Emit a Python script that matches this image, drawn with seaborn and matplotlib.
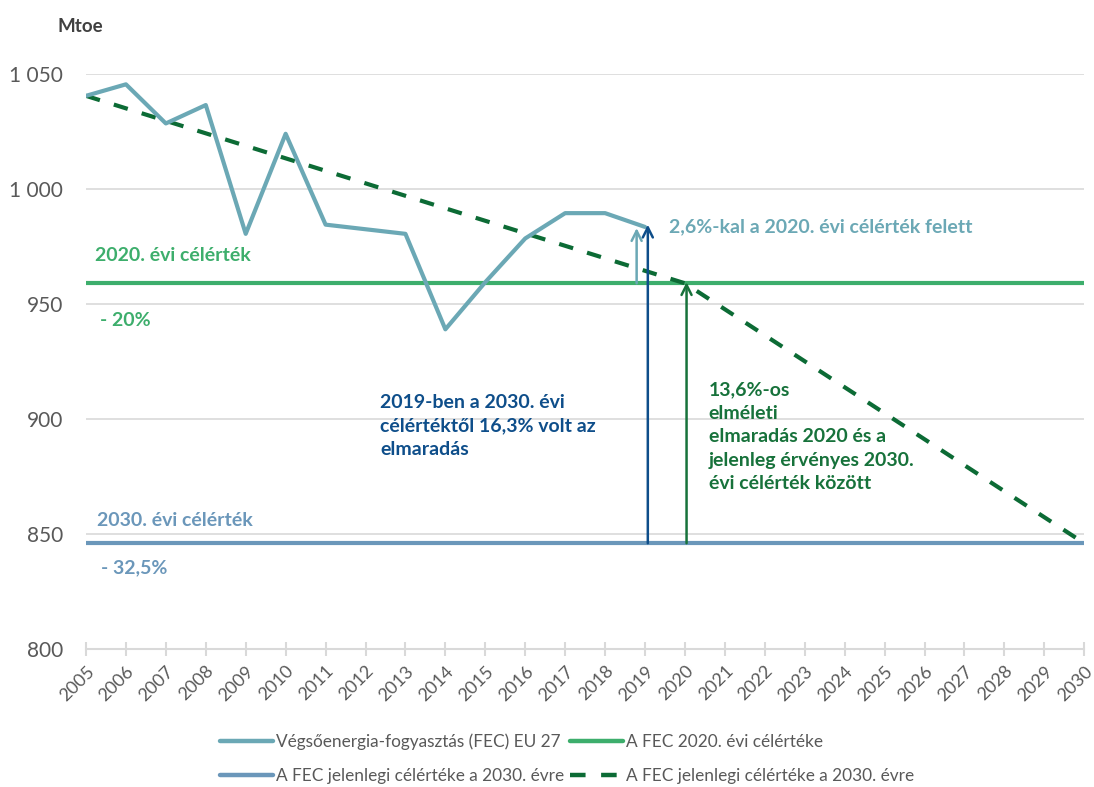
import matplotlib
matplotlib.use("Agg")
import matplotlib.pyplot as plt
import seaborn as sns
import pandas as pd

# ---- data ----
fec_years = [2005, 2006, 2007, 2008, 2009, 2010, 2011, 2012, 2013, 2014, 2015, 2016, 2017, 2018, 2019]
fec_values = [1040.5, 1045.5, 1028.5, 1036.5, 980.5, 1024.0, 984.5, 982.5, 980.5, 939.0, 959.5, 978.5, 989.5, 989.5, 983.5]
target_years = [2005, 2030]
target_2020 = [959, 959]
target_2030 = [846, 846]
trend_years = [2005, 2020, 2030]
trend_values = [1040.5, 959, 846]
x_ticks = list(range(2005, 2031))
y_ticks = [800, 850, 900, 950, 1000, 1050]
y_tick_labels = ["800", "850", "900", "950", "1 000", "1 050"]
legend_labels = ["Végsőenergia-fogyasztás (FEC) EU 27",
                 "A FEC 2020. évi célértéke",
                 "A FEC jelenlegi célértéke a 2030. évre",
                 "A FEC jelenlegi célértéke a 2030. évre"]

C_FEC = "#6BA8B5"
C_T20 = "#3DAE6C"
C_T30 = "#6B97BA"
C_TREND = "#0C6B35"
C_BLUE = "#0E4E8A"
C_GREEN_ARROW = "#17723B"

sns.set_theme(style="white")
plt.rcParams["font.family"] = ["Lato", "DejaVu Sans"]

fig = plt.figure(figsize=(10.94, 7.87), dpi=100)
ax = fig.add_axes([0.0786, 0.1753, 0.9125, 0.7307])

df_fec = pd.DataFrame({"year": fec_years, "value": fec_values})
df_t20 = pd.DataFrame({"year": target_years, "value": target_2020})
df_t30 = pd.DataFrame({"year": target_years, "value": target_2030})
df_tr = pd.DataFrame({"year": trend_years, "value": trend_values})

sns.lineplot(data=df_fec, x="year", y="value", ax=ax, color=C_FEC, lw=3.0, label=legend_labels[0])
sns.lineplot(data=df_t20, x="year", y="value", ax=ax, color=C_T20, lw=3.0, label=legend_labels[1])
sns.lineplot(data=df_t30, x="year", y="value", ax=ax, color=C_T30, lw=3.0, label=legend_labels[2])
sns.lineplot(data=df_tr, x="year", y="value", ax=ax, color=C_TREND, lw=3.0, label=legend_labels[3],
             linestyle=(0, (3.5, 3.5)))
ax.lines[0].set_zorder(5)

ax.set_xlim(2005, 2030)
ax.set_ylim(800, 1050)
ax.set_yticks(y_ticks)
ax.set_yticklabels(y_tick_labels)
ax.set_xticks(x_ticks)
ax.set_xticklabels([str(y) for y in x_ticks], rotation=45, ha="right", rotation_mode="anchor")
ax.set_xlabel("")
ax.set_ylabel("")
ax.grid(axis="y", color="#D9D9D9", lw=1.2)
ax.grid(axis="x", visible=False)
for s in ["top", "right", "left"]:
    ax.spines[s].set_visible(False)
ax.spines["bottom"].set_color("#D9D9D9")
ax.spines["bottom"].set_linewidth(1.5)
ax.tick_params(axis="x", direction="inout", length=10, width=1.5, color="#D9D9D9",
               labelsize=13, labelcolor="#595959", pad=5, bottom=True)
ax.tick_params(axis="y", length=0, labelsize=15, labelcolor="#595959", pad=16.5)

# arrows
arrow_kw = dict(arrowstyle="->,head_length=0.6,head_width=0.3", lw=1.8, shrinkA=0, shrinkB=0)
ax.annotate("", xy=(2018.79, 983.0), xytext=(2018.79, 959), arrowprops=dict(color=C_FEC, **arrow_kw), zorder=6)
ax.annotate("", xy=(2019.07, 984.5), xytext=(2019.07, 846), arrowprops=dict(color=C_BLUE, **arrow_kw), zorder=6)
ax.annotate("", xy=(2020.04, 959.5), xytext=(2020.04, 846), arrowprops=dict(color=C_GREEN_ARROW, **arrow_kw), zorder=6)

# texts
fs = 14
ax.text(2005.22, 971, "2020. évi célérték", color=C_T20, fontsize=fs, fontweight="bold", va="center")
ax.text(2005.35, 943, "- 20%", color=C_T20, fontsize=fs, fontweight="bold", va="center")
ax.text(2005.28, 856, "2030. évi célérték", color=C_T30, fontsize=fs, fontweight="bold", va="center")
ax.text(2005.38, 835.5, "- 32,5%", color=C_T30, fontsize=fs, fontweight="bold", va="center")
ax.text(2019.6, 983.5, "2,6%-kal a 2020. évi célérték felett", color=C_FEC, fontsize=fs,
        fontweight="bold", va="center")
ax.text(2012.37, 911, "2019-ben a 2030. évi\ncélértéktől 16,3% volt az\nelmaradás", color=C_BLUE,
        fontsize=fs, fontweight="bold", va="top", linespacing=1.47)
ax.text(2020.59, 916.5, "13,6%-os\nelméleti\nelmaradás 2020 és a\njelenleg érvényes 2030.\névi célérték között",
        color=C_GREEN_ARROW, fontsize=fs, fontweight="bold", va="top", linespacing=1.47)

fig.text(0.053, 0.966, "Mtoe", fontsize=13.5, fontweight="bold", color="#404040", va="center")

# legend (row-wise order like the reference)
handles, labels = ax.get_legend_handles_labels()
order = [0, 2, 1, 3]
leg = ax.legend([handles[i] for i in order], [labels[i] for i in order], ncol=2, loc="upper left",
                bbox_to_anchor=(0.122, -0.125), frameon=False, fontsize=12.4, handlelength=3.1,
                handletextpad=0.15, columnspacing=0.35, labelspacing=1.1, labelcolor="#595959",
                borderaxespad=0.3)
for h in leg.legend_handles:
    h.set_linewidth(3.2)

fig.savefig("out.png", dpi=100)
